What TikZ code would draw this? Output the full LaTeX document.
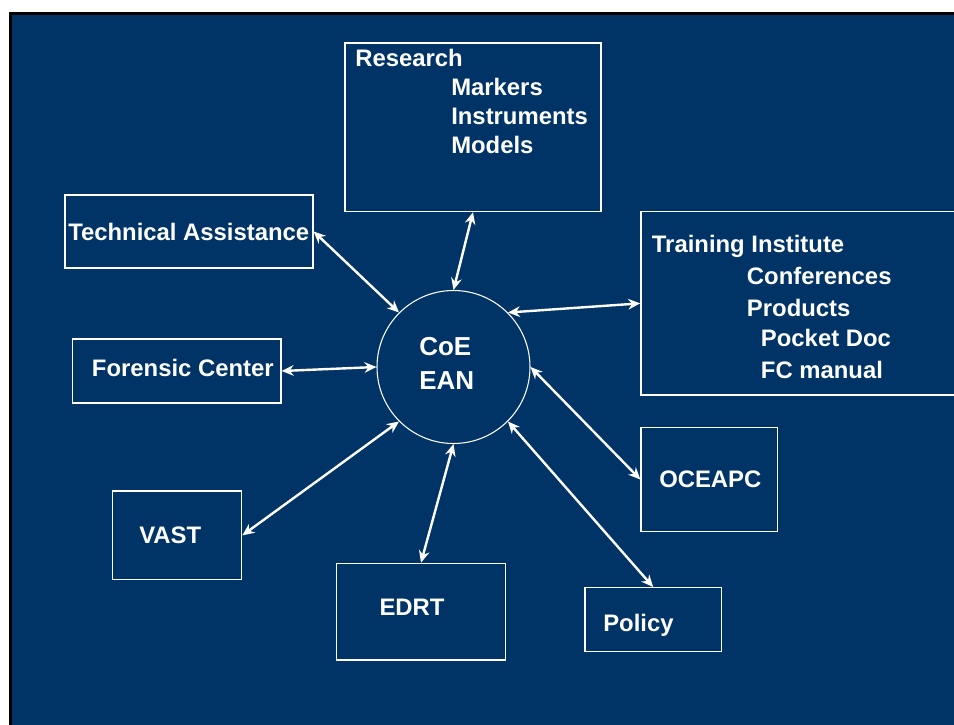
\documentclass[tikz,border=0pt]{standalone}
\usepackage{fontspec}
\setmainfont{Liberation Sans}
\usetikzlibrary{arrows.meta}
\definecolor{slideblue}{RGB}{0,51,102}

\begin{document}
\begin{tikzpicture}[x=0.75pt,y=-0.75pt,
  box/.style={draw=white,line width=1pt,inner sep=0pt},
  txt/.style={text=white,font=\fontsize{17.9}{21}\selectfont\bfseries,anchor=base west,inner sep=0pt},
  bigtxt/.style={txt,font=\fontsize{19.5}{23}\selectfont\bfseries},
  biarrow/.style={white,line width=1.8pt,{Stealth[length=9pt,width=8pt,inset=3pt]}-{Stealth[length=9pt,width=8pt,inset=3pt]}}]

\useasboundingbox (0,0) rectangle (954,725);

% Slide background
\fill[black] (9,11.5) rectangle (954,725);
\fill[slideblue] (12,14.5) rectangle (954,725);

% Centre
\node[circle,draw=white,line width=0.8pt,minimum size=114.75pt,inner sep=0pt] (coe) at (453.5,367) {};
\node[bigtxt] (coe-a) at (419,355) {CoE};
\node[bigtxt] (coe-b) at (419,389) {EAN};

% Research
\node[box,minimum width=192pt,minimum height=126.4pt] (research) at (473,127.25) {};
\node[txt] (research-a) at (355,66) {Research};
\node[txt] (research-b) at (451,95) {Markers};
\node[txt] (research-c) at (451,124.5) {Instruments};
\node[txt] (research-d) at (451,153.5) {Models};

% Training Institute
\node[box,minimum width=243pt,minimum height=137.5pt] (training) at (802.85,303.35) {};
\node[txt] (training-a) at (651.7,252.7) {Training Institute};
\node[txt] (training-b) at (746.7,284) {Conferences};
\node[txt] (training-c) at (746.7,316) {Products};
\node[txt] (training-d) at (760.7,346.7) {Pocket Doc};
\node[txt] (training-e) at (760.7,378) {FC manual};

% Left side
\node[box,minimum width=186pt,minimum height=54.75pt] (tech) at (189,231.5) {};
\node[txt] (tech-a) at (68,240) {Technical Assistance};

\node[box,minimum width=156.2pt,minimum height=48pt] (forensic) at (176.85,371) {};
\node[txt] (forensic-a) at (91.7,376) {Forensic Center};

\node[box,minimum width=96.75pt,minimum height=66.5pt] (vast) at (177.2,535.35) {};
\node[txt] (vast-a) at (139,543.3) {VAST};

% Bottom and right side
\node[box,minimum width=126.45pt,minimum height=72.5pt] (edrt) at (421,611.65) {};
\node[txt] (edrt-a) at (379.3,615) {EDRT};

\node[box,minimum width=102.2pt,minimum height=48pt] (policy) at (653.15,619.7) {};
\node[txt] (policy-a) at (603,631.7) {Policy};

\node[box,minimum width=102.2pt,minimum height=78.3pt] (oceapc) at (709.15,479.5) {};
\node[txt] (oceapc-a) at (659,487) {OCEAPC};

% Connectors
\draw[biarrow] (coe.north) -- (research.south);
\draw[biarrow] (coe.135) -- (tech.east);
\draw[biarrow] (coe.west) -- (forensic.east);
\draw[biarrow] (coe.225) -- (vast.east);
\draw[biarrow] (coe.south) -- (edrt.north);
\draw[biarrow] (coe.-45) -- (policy.north);
\draw[biarrow] (coe.east) -- (oceapc.west);
\draw[biarrow] (coe.45) -- (training.west);

\end{tikzpicture}
\end{document}
